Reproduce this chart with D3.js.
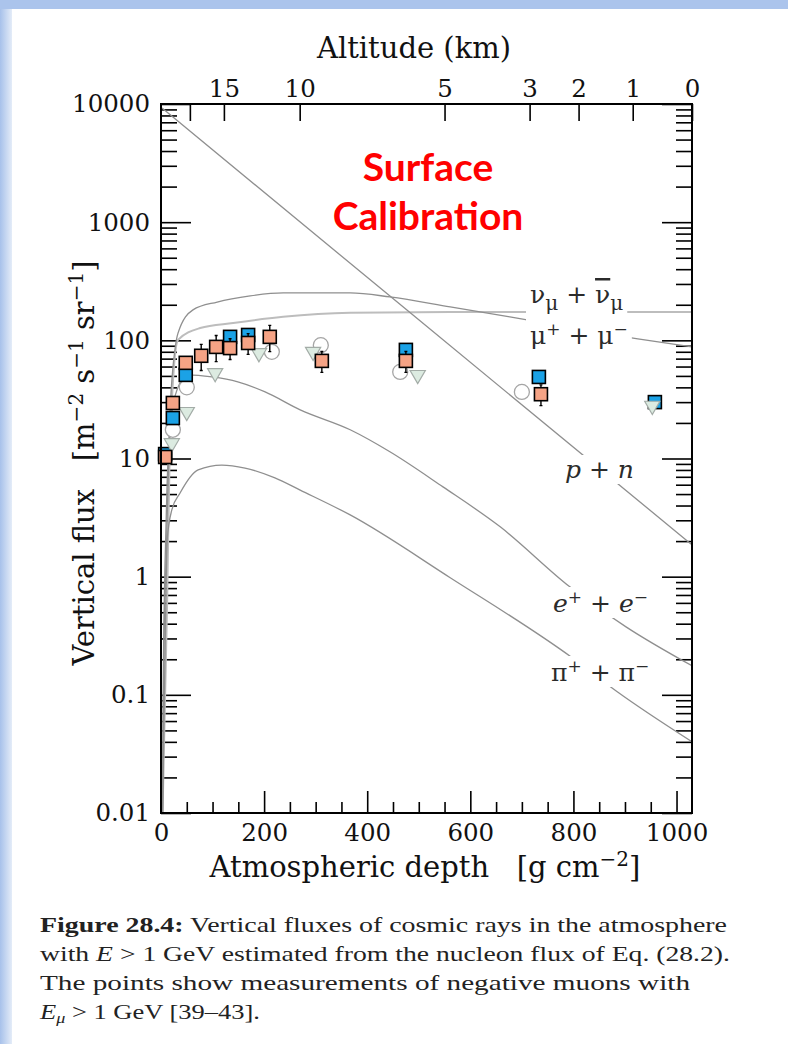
<!DOCTYPE html>
<html>
<head>
<meta charset="utf-8">
<script src="https://cdn.jsdelivr.net/npm/d3@7"></script>
<style>
  body { margin: 0; background: #fff; }
  svg text { font-family: "DejaVu Serif", serif; fill: #111; }
</style>
</head>
<body>
<div id="canvas"></div>
<script>
// curves: [atmospheric depth g/cm2, flux]
const muonCurve = [[3, 0.01], [6, 0.3], [10, 1.4], [17, 21], [27, 83], [33, 115], [62, 181], [109, 211], [173, 238], [237, 252], [367, 252], [444, 233], [561, 192], [710, 149], [925, 103], [1030, 88]];
const nuCurve = [[3, 0.01], [8, 0.1], [12, 0.64], [17, 12], [33, 101], [76, 127], [140, 140], [237, 158], [367, 171], [561, 174], [1030, 174]];
const nucleonCurve = [[2, 9250], [500, 149], [1030, 1.86]];
const electronCurve = [[3, 0.01], [4, 0.09], [10, 3.0], [17, 17.5], [31, 38], [52, 51], [99, 49], [149, 44.5], [202, 36.6], [270, 25.8], [367, 17.5], [444, 11.4], [547, 5.75], [658, 2.64], [793, 0.82], [902, 0.376], [1030, 0.176]];
const pionCurve = [[3, 0.01], [8, 0.24], [12, 2.05], [21, 3.67], [37, 5.1], [72, 8.0], [118, 8.8], [163, 8.3], [221, 6.85], [270, 5.4], [367, 3.33], [561, 0.98], [795, 0.21], [885, 0.106], [1030, 0.04]];

// measured points
const orangeDepth = [8, 23, 48, 78, 107, 134, 169, 211, 312, 475, 737];
const orangeFlux = [10.3, 29.5, 64.5, 74, 88, 86, 95, 107, 67, 67, 35];
const orangeErr = [0, 0, 0, 0.25, 0.25, 0.2, 0.2, 0.25, 0.2, 0.2, 0.2];
const blueDepth = [8, 23, 48, 134, 169, 475, 733, 958];
const blueFlux = [10.9, 22, 51, 107, 111, 83, 49, 30];
const circleDepth = [23, 50, 215, 310, 464, 700];
const circleFlux = [17.5, 40, 80, 91, 54, 36.6];
const triDepth = [21, 50, 105, 190, 295, 498, 953];
const triFlux = [13.5, 24.8, 53, 78, 80, 51, 28];

// axes
const yMajor = [0.01, 0.1, 1, 10, 100, 1000, 10000];
const yLabels = ["0.01", "0.1", "1", "10", "100", "1000", "10000"];
const xMajor = [0, 200, 400, 600, 800, 1000];
const altitudeKm = [20, 15, 10, 5, 3, 2, 1, 0];
const altitudeDepth = [56, 122, 269, 550, 715, 810, 915, 1030];
const altitudeLabels = ["", "15", "10", "5", "3", "2", "1", "0"];

const width = 788, height = 1044;
const svg = d3.select('#canvas').append('svg')
    .attr('width', width).attr('height', height);

// blue slide border
const grad = svg.append('defs').append('linearGradient').attr('id', 'edge');
grad.append('stop').attr('offset', '0%').attr('stop-color', '#a7c1ea');
grad.append('stop').attr('offset', '100%').attr('stop-color', '#e4ecf8');
svg.append('rect').attr('x', 0).attr('y', 0).attr('width', 12).attr('height', height).attr('fill', 'url(#edge)');
svg.append('rect').attr('x', 0).attr('y', 0).attr('width', width).attr('height', 9).attr('fill', '#abc4ec');

const x = d3.scaleLinear().domain([0, 1030]).range([161, 692]);
const y = d3.scaleLog().domain([0.01, 10000]).range([813, 104]);

svg.append('clipPath').attr('id', 'plot')
    .append('rect').attr('x', 161).attr('y', 104).attr('width', 531).attr('height', 709);

// minor ticks
let yMinor = [];
for (let e = -2; e < 4; e++) {
    for (let k = 2; k < 10; k++) yMinor.push(k * Math.pow(10, e));
}
let xMinor = d3.range(50, 1030, 50).filter(function (d) { return d % 200 != 0; });

function styleAxis(g) {
    g.select('.domain').remove();
    g.selectAll('line').attr('stroke', '#000').attr('stroke-width', 1.6);
    g.selectAll('text').style('font-family', '"DejaVu Serif", serif').style('fill', '#111');
}

svg.append('g').attr('transform', 'translate(161,0)')
    .call(d3.axisLeft(y).tickValues(yMajor).tickSize(-30).tickPadding(11)
        .tickFormat(function (d, i) { return yLabels[i]; }))
    .call(styleAxis)
    .selectAll('text').style('font-size', '24.5px');
svg.append('g').attr('transform', 'translate(161,0)')
    .call(d3.axisLeft(y).tickValues(yMinor).tickSize(-16).tickFormat(''))
    .call(styleAxis);
svg.append('g').attr('transform', 'translate(692,0)')
    .call(d3.axisRight(y).tickValues(yMajor).tickSize(-30).tickFormat(''))
    .call(styleAxis);
svg.append('g').attr('transform', 'translate(692,0)')
    .call(d3.axisRight(y).tickValues(yMinor).tickSize(-16).tickFormat(''))
    .call(styleAxis);

svg.append('g').attr('transform', 'translate(0,813)')
    .call(d3.axisBottom(x).tickValues(xMajor).tickSize(-22).tickPadding(11)
        .tickFormat(d3.format('d')))
    .call(styleAxis)
    .selectAll('text').style('font-size', '24.5px');
svg.append('g').attr('transform', 'translate(0,813)')
    .call(d3.axisBottom(x).tickValues(xMinor).tickSize(-11).tickFormat(''))
    .call(styleAxis);

svg.append('g').attr('transform', 'translate(0,104)')
    .call(d3.axisTop(x).tickValues(altitudeDepth).tickSize(-17).tickPadding(7)
        .tickFormat(function (d, i) { return altitudeLabels[i]; }))
    .call(styleAxis)
    .selectAll('text').style('font-size', '24.5px');

// curves
const line = d3.line()
    .x(function (d) { return x(d[0]); })
    .y(function (d) { return y(d[1]); })
    .curve(d3.curveMonotoneX);

const curves = [muonCurve, nucleonCurve, electronCurve, pionCurve];
const curveLayer = svg.append('g').attr('clip-path', 'url(#plot)');
curveLayer.append('path')
    .datum(nuCurve)
    .attr('d', line)
    .attr('fill', 'none')
    .attr('stroke', '#bdbdbd')
    .attr('stroke-width', 2);
curveLayer.selectAll('.curve')
    .data(curves)
    .enter()
    .append('path')
    .attr('d', line)
    .attr('fill', 'none')
    .attr('stroke', '#8f8f8f')
    .attr('stroke-width', 1.3);

// curve labels, with white boxes that break the lines
const labels = svg.append('g');
function curveLabel(px, py, parts, italic) {
    const t = labels.append('text').attr('x', px).attr('y', py)
        .style('font-size', '25px')
        .style('font-family', '"DejaVu Serif", serif')
        .style('font-style', italic ? 'italic' : 'normal')
        .style('fill', '#2b2b2b');
    parts.forEach(function (p) {
        const s = t.append('tspan').text(p.t);
        if (p.dy) s.attr('dy', p.dy);
        if (p.size) s.style('font-size', p.size);
        if (p.over) s.style('text-decoration', 'overline');
    });
    const b = t.node().getBBox();
    labels.insert('rect', 'text')
        .attr('x', b.x - 4).attr('y', b.y).attr('width', b.width + 8).attr('height', b.height)
        .attr('fill', '#fff');
}
curveLabel(530, 303, [{t: 'ν'}, {t: 'μ', dy: 7, size: '20px'}, {t: ' + ', dy: -7}, {t: 'ν', over: true}, {t: 'μ', dy: 7, size: '20px'}]);
curveLabel(530, 344, [{t: 'μ'}, {t: '+', dy: -9, size: '17px'}, {t: ' + ', dy: 9}, {t: 'μ'}, {t: '−', dy: -9, size: '17px'}]);
curveLabel(565, 478, [{t: 'p + n'}], true);
curveLabel(553, 612, [{t: 'e'}, {t: '+', dy: -9, size: '17px'}, {t: ' + ', dy: 9}, {t: 'e'}, {t: '−', dy: -9, size: '17px'}], true);
curveLabel(551, 681, [{t: 'π'}, {t: '+', dy: -9, size: '17px'}, {t: ' + ', dy: 9}, {t: 'π'}, {t: '−', dy: -9, size: '17px'}]);

// measurement points
const marks = svg.append('g');
const triangle = d3.symbol().type(d3.symbolTriangle).size(100);
const sq = 13;

marks.selectAll('.circ')
    .data(circleDepth)
    .enter()
    .append('circle')
    .attr('cx', function (d) { return x(d); })
    .attr('cy', function (d, i) { return y(circleFlux[i]); })
    .attr('r', 7.5)
    .attr('fill', '#fff')
    .attr('stroke', '#a5a5a5')
    .attr('stroke-width', 1.3);

marks.selectAll('.blue')
    .data(blueDepth)
    .enter()
    .append('rect')
    .attr('x', function (d) { return x(d) - sq / 2; })
    .attr('y', function (d, i) { return y(blueFlux[i]) - sq / 2; })
    .attr('width', sq).attr('height', sq)
    .attr('fill', '#1ba2e6')
    .attr('stroke', '#000')
    .attr('stroke-width', 1.6);

marks.selectAll('.tri')
    .data(triDepth)
    .enter()
    .append('path')
    .attr('transform', function (d, i) { return 'translate(' + x(d) + ',' + y(triFlux[i]) + ') rotate(180)'; })
    .attr('d', triangle)
    .attr('fill', '#dcebe1')
    .attr('stroke', '#a3aca7')
    .attr('stroke-width', 1.2);

marks.selectAll('.err')
    .data(orangeDepth)
    .enter()
    .append('path')
    .attr('d', function (d, i) {
        const e = orangeErr[i];
        if (!e) return '';
        const cx = x(d), lo = y(orangeFlux[i] * (1 - e)), hi = y(orangeFlux[i] * (1 + e));
        return 'M' + cx + ',' + lo + 'V' + hi + 'M' + (cx - 1.5) + ',' + lo + 'H' + (cx + 1.5) + 'M' + (cx - 1.5) + ',' + hi + 'H' + (cx + 1.5);
    })
    .attr('stroke', '#000')
    .attr('stroke-width', 1.4);

marks.selectAll('.orange')
    .data(orangeDepth)
    .enter()
    .append('rect')
    .attr('x', function (d) { return x(d) - sq / 2; })
    .attr('y', function (d, i) { return y(orangeFlux[i]) - sq / 2; })
    .attr('width', sq).attr('height', sq)
    .attr('fill', '#f5a385')
    .attr('stroke', '#000')
    .attr('stroke-width', 1.6);

// frame
svg.append('rect').attr('x', 161).attr('y', 104).attr('width', 531).attr('height', 709)
    .attr('fill', 'none').attr('stroke', '#000').attr('stroke-width', 2);

// axis titles
svg.append('text').attr('x', 414).attr('y', 58).attr('text-anchor', 'middle')
    .style('font-size', '29px').text('Altitude (km)');

const xt = svg.append('text').attr('x', 425).attr('y', 877).attr('text-anchor', 'middle')
    .style('font-size', '29px');
xt.append('tspan').text('Atmospheric depth\u00a0\u00a0\u00a0[g cm');
xt.append('tspan').attr('dy', -11).style('font-size', '20px').text('−2');
xt.append('tspan').attr('dy', 11).text(']');

const yt = svg.append('text').attr('transform', 'translate(94,463) rotate(-90)')
    .attr('text-anchor', 'middle').style('font-size', '29px');
yt.append('tspan').text('Vertical flux\u00a0\u00a0\u00a0[m');
yt.append('tspan').attr('dy', -11).style('font-size', '20px').text('−2');
yt.append('tspan').attr('dy', 11).text(' s');
yt.append('tspan').attr('dy', -11).style('font-size', '20px').text('−1');
yt.append('tspan').attr('dy', 11).text(' sr');
yt.append('tspan').attr('dy', -11).style('font-size', '20px').text('−1');
yt.append('tspan').attr('dy', 11).text(']');

// overlay note
svg.append('text').attr('x', 428).attr('y', 181).attr('text-anchor', 'middle')
    .style('font-family', 'Lato, sans-serif').style('font-weight', 'bold')
    .style('font-size', '39px').style('fill', '#ff0000').text('Surface');
svg.append('text').attr('x', 428).attr('y', 230).attr('text-anchor', 'middle')
    .style('font-family', 'Lato, sans-serif').style('font-weight', 'bold')
    .style('font-size', '39px').style('fill', '#ff0000').text('Calibration');

// caption
const cap = svg.append('g');
function capLine(py, len) {
    const t = cap.append('text').attr('x', 40).attr('y', py)
        .style('font-family', '"Liberation Serif", serif').style('font-size', '22px').style('fill', '#222');
    if (len) t.attr('textLength', len).attr('lengthAdjust', 'spacingAndGlyphs');
    return t;
}
let c1 = capLine(932, 687);
c1.append('tspan').style('font-weight', 'bold').text('Figure 28.4:');
c1.append('tspan').text(' Vertical fluxes of cosmic rays in the atmosphere');
let c2 = capLine(961, 690);
c2.append('tspan').text('with ');
c2.append('tspan').style('font-style', 'italic').text('E');
c2.append('tspan').text(' > 1 GeV estimated from the nucleon flux of Eq. (28.2).');
let c3 = capLine(990, 650);
c3.append('tspan').text('The points show measurements of negative muons with');
let c4 = capLine(1019, 220);
c4.append('tspan').style('font-style', 'italic').text('E');
c4.append('tspan').style('font-style', 'italic').attr('dy', 4).style('font-size', '15px').text('μ');
c4.append('tspan').attr('dy', -4).text(' > 1 GeV [39–43].');
</script>
</body>
</html>
